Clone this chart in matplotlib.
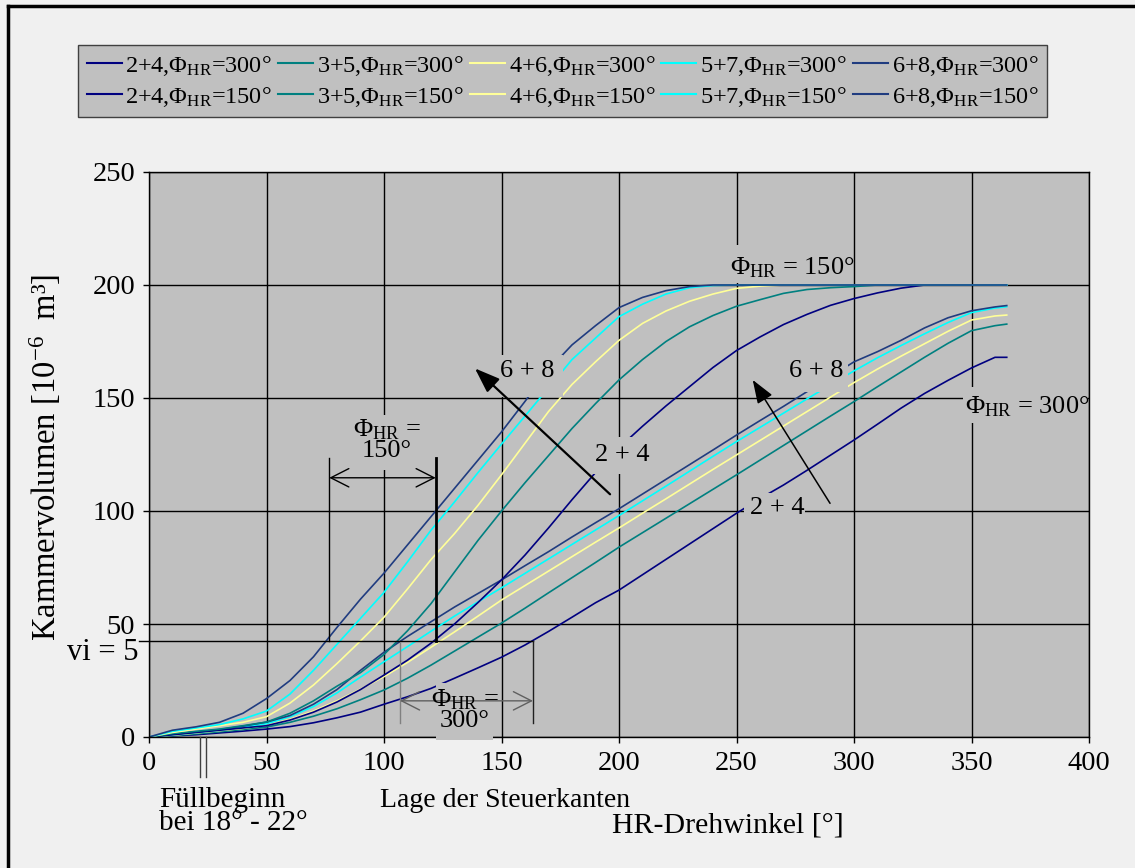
import matplotlib.pyplot as plt
from matplotlib.lines import Line2D

plt.rcParams['font.family'] = 'Liberation Serif'
plt.rcParams['mathtext.fontset'] = 'custom'
plt.rcParams['mathtext.rm'] = 'Liberation Serif'
plt.rcParams['mathtext.it'] = 'Liberation Serif:italic'
plt.rcParams['mathtext.bf'] = 'Liberation Serif:bold'

# HR-Drehwinkel [°]
angle = [0, 10, 20, 30, 40, 50, 60, 70, 80, 90,
         100, 110, 120, 130, 140, 150, 160, 170, 180, 190,
         200, 210, 220, 230, 240, 250, 260, 270, 280, 290,
         300, 310, 320, 330, 340, 350, 360, 365]

# Kammervolumen [10^-6 m^3], Steuerkanten bei PHI_HR = 150°
v24_150 = [0, 1, 2, 3, 4, 5, 7.5, 11, 15.5, 21,
           27.4, 34, 41.5, 50, 59.5, 69.5, 80.5, 92.5, 105, 117,
           128, 137.5, 146.5, 155, 163.5, 171, 177, 182.5, 187, 191,
           194, 196.5, 198.6, 200, 200, 200, 200, 200]
v35_150 = [0, 1.5, 2.5, 3.5, 5, 6.6, 10.5, 16, 22.5, 28.5,
           36.5, 47, 59, 73, 87, 100, 112.5, 124.5, 136.5, 147.5,
           158, 167, 175, 181.5, 186.5, 190.6, 193.5, 196.3, 198, 198.8,
           199.3, 200, 200, 200, 200, 200, 200, 200]
v46_150 = [0, 2, 3.5, 5, 6.5, 9, 15, 23, 32.5, 42.5,
           53, 65.5, 78.5, 90, 102.5, 116, 130, 144, 156, 166,
           175.5, 183, 188.5, 192.8, 196, 198.5, 199.5, 200, 200, 200,
           200, 200, 200, 200, 200, 200, 200, 200]
v57_150 = [0, 2.5, 4, 5.5, 8, 11.5, 19, 29.5, 41, 52.5,
           64, 77.5, 91.5, 104, 117, 129.6, 142, 154.5, 167, 176.5,
           186, 191.5, 196, 198.8, 199.8, 200, 200, 200, 200, 200,
           200, 200, 200, 200, 200, 200, 200, 200]
v68_150 = [0, 3, 4.5, 6.5, 10.5, 17, 25, 35.5, 48.5, 61,
           72.5, 85, 97.5, 110, 122.5, 135, 148.5, 162.5, 173.5, 182,
           190, 194.5, 197.5, 199.3, 200, 200, 200, 200, 200, 200,
           200, 200, 200, 200, 200, 200, 200, 200]

# Steuerkanten bei PHI_HR = 300°
v24_300 = [0, 0.5, 1, 1.8, 2.6, 3.5, 4.6, 6.3, 8.5, 11,
           14.5, 17.8, 21.5, 26, 30.6, 35.3, 40.7, 46.7, 53, 59.4,
           65, 71.8, 78.6, 85.4, 92.2, 99, 105.5, 111.5, 118, 124.7,
           131.4, 138.4, 145.5, 152, 157.8, 163.3, 168, 168]
v35_300 = [0, 0.6, 1.4, 2.3, 3.3, 4.4, 6.5, 9.2, 12.5, 16.5,
           20.8, 26, 31.8, 38, 44.2, 50.4, 57, 63.8, 70.5, 77.2,
           84, 90.4, 96.8, 103.2, 109.6, 116, 122.5, 129, 135.5, 142,
           148.4, 155, 161.5, 168, 174.2, 179.8, 182, 182.7]
v46_300 = [0, 0.8, 1.8, 2.8, 3.8, 5.2, 7.8, 11.5, 16, 21.2,
           26.7, 33, 39.7, 46.5, 53.5, 60.6, 67, 73.4, 79.8, 86.2,
           92.5, 99, 105.4, 111.9, 118.4, 124.8, 131.2, 137.6, 144, 150.4,
           156.8, 162.8, 168.5, 174, 179.5, 184.5, 186.3, 186.7]
v57_300 = [0, 1, 2, 3, 4.3, 5.9, 9, 13.5, 19.5, 26.5,
           33.3, 40, 46.8, 53.5, 59.8, 66, 72.4, 78.8, 85.2, 91.6,
           98, 104.5, 111, 117.6, 124.2, 130.7, 137, 143.3, 149.6, 155.8,
           162, 167.8, 173.2, 178.4, 183.4, 187.8, 189.8, 190.4]
v68_300 = [0, 1.2, 2.2, 3.3, 4.8, 6.6, 9.5, 14.5, 21, 29.5,
           37.5, 44.5, 51, 57.5, 63.5, 69.5, 75.8, 82, 88.5, 94.8,
           101, 107.5, 114, 120.5, 127, 133.6, 140, 146.3, 152.8, 159.5,
           166, 170.5, 175.5, 181, 185.5, 188.6, 190.3, 190.9]

pairs = ['2+4', '3+5', '4+6', '5+7', '6+8']
colors = ['#000080', '#008080', '#FFFF99', '#00FFFF', '#203C80']
series_300 = [v24_300, v35_300, v46_300, v57_300, v68_300]
series_150 = [v24_150, v35_150, v46_150, v57_150, v68_150]

vi5_level = 42.5          # Kammervolumen bei vi = 5
fill_start = [21.7, 24.3]  # Markierung Füllbeginn
edge_150 = [76.7, 122]     # Lage der Steuerkanten, PHI_HR = 150°
edge_300 = [106.8, 163.4]  # Lage der Steuerkanten, PHI_HR = 300°

BG = '#C0C0C0'
phi = r'$\Phi_{\mathrm{HR}}$'

fig = plt.figure(figsize=(11.35, 8.68), dpi=100)
fig.patch.set_facecolor('#F0F0F0')
ax = fig.add_axes([149 / 1135, 1 - 737 / 868, 940 / 1135, 565 / 868])
ax.set_facecolor(BG)

h300, h150 = [], []
for p, c, v in zip(pairs, colors, series_300):
    h300 += ax.plot(angle, v, color=c, lw=1.2, zorder=2, label=p + ',' + phi + '=300°')
for p, c, v in zip(pairs, colors, series_150):
    h150 += ax.plot(angle, v, color=c, lw=1.2, zorder=2, label=p + ',' + phi + '=150°')

ax.set_xlim(0, 400)
ax.set_ylim(0, 250)
ax.set_xticks(range(0, 401, 50))
ax.set_yticks(range(0, 251, 50))
ax.grid(True, color='black', lw=1)
ax.set_axisbelow(True)
ax.tick_params(direction='out', length=4, width=1, labelsize=20.5, pad=6)
for s in ax.spines.values():
    s.set_color('black')
    s.set_linewidth(1)

ax.set_ylabel('Kammervolumen [10$^{\\mathrm{-6}}$  m³]', fontsize=23.5)
ax.yaxis.set_label_coords(-0.092, 0.495)
ax.set_xlabel('HR-Drehwinkel [°]', fontsize=21.5)
ax.xaxis.set_label_coords(0.616, -0.133)


def mask(x0, y0, x1, y1):
    ax.add_patch(plt.Rectangle((x0, y0), x1 - x0, y1 - y0, fc=BG, ec='none',
                               zorder=3, clip_on=False))


def label(x, y, s, size=19, **kw):
    ax.text(x, y, s, ha='center', va='center', fontsize=size, zorder=6,
            clip_on=False, **kw)


# curve labels with their background boxes
mask(147.2, 150.6, 176.2, 169.0)
label(160.9, 161.9, '6 + 8')
mask(188.0, 116.4, 216.0, 132.7)
label(201.3, 124.8, '2 + 4')
mask(270.6, 152.7, 297.4, 169.0)
label(284.0, 162.0, '6 + 8')
mask(253.2, 93.8, 279.0, 108.0)
label(267.4, 101.3, '2 + 4')
mask(248.0, 200.9, 298.7, 217.7)
label(273.8, 207.5, phi + ' = 150°')
mask(346.4, 138.9, 399.6, 154.9)
label(373.6, 146.0, phi + ' = 300°')

# arrows: direction from 2+4 to 6+8
ax.annotate('', xy=(138.7, 163.1), xytext=(196.2, 107.4), zorder=7,
            arrowprops=dict(arrowstyle='-|>,head_length=0.9,head_width=0.33',
                            lw=1.6, color='black', mutation_scale=17,
                            shrinkA=0, shrinkB=0))
ax.annotate('', xy=(256.9, 158.0), xytext=(289.8, 103.4), zorder=7,
            arrowprops=dict(arrowstyle='-|>,head_length=0.9,head_width=0.33',
                            lw=1.1, color='black', mutation_scale=16,
                            shrinkA=0, shrinkB=0))

# vi = 5 level
ax.plot([-4.3, edge_300[1]], [vi5_level, vi5_level], color='black', lw=1,
        zorder=4, clip_on=False)
ax.text(-4.5, 37.6, 'vi = 5', ha='right', va='center', fontsize=22)

# control edge positions, PHI_HR = 150°
ax.plot([edge_150[0]] * 2, [vi5_level, 123.3], color='black', lw=1, zorder=4)
ax.plot([edge_150[1]] * 2, [vi5_level, 123.3], color='black', lw=2, zorder=4)
ax.annotate('', xy=(edge_150[0], 114.7), xytext=(edge_150[1], 114.7), zorder=4,
            arrowprops=dict(arrowstyle='<->,head_length=0.65,head_width=0.33',
                            lw=1, color='black', mutation_scale=20,
                            shrinkA=0, shrinkB=0))
mask(87.7, 118.1, 115.3, 142.5)
label(101.3, 131.5, phi + ' =\n150°', linespacing=0.85)

# control edge positions, PHI_HR = 300°
ax.plot([edge_300[0]] * 2, [6, 41.6], color='#808080', lw=1, zorder=4)
ax.plot([edge_300[1]] * 2, [6, vi5_level], color='#202020', lw=1, zorder=4)
ax.annotate('', xy=(edge_300[0], 16), xytext=(edge_300[1], 16), zorder=4,
            arrowprops=dict(arrowstyle='<->,head_length=0.65,head_width=0.33',
                            lw=1, color='#606060', mutation_scale=20,
                            shrinkA=0, shrinkB=0))
mask(122.1, -1.3, 146.4, 23.9)
label(134.5, 12.0, phi + ' =\n300°', linespacing=0.85)

# start of filling
for x in fill_start:
    ax.plot([x, x], [0, -17.7], color='#404040', lw=1, zorder=4, clip_on=False)
ax.text(4.3, -33.0, 'Füllbeginn\nbei 18° - 22°', ha='left', va='center',
        fontsize=21, linespacing=0.85)
ax.text(98.3, -27.9, 'Lage der Steuerkanten', ha='left', va='center', fontsize=20)

# legend: first row PHI_HR = 300°, second row PHI_HR = 150°
handles = [h for pair in zip(h300, h150) for h in pair]
leg = fig.legend(handles=handles, loc='upper left', ncol=5,
                 bbox_to_anchor=(78 / 1135, 1 - 45 / 868), borderaxespad=0,
                 fontsize=17.5, handlelength=1.45, handletextpad=0.15,
                 columnspacing=0.25, borderpad=0.35, labelspacing=0.3,
                 fancybox=False, framealpha=1, facecolor=BG, edgecolor='#404040')
leg.get_frame().set_linewidth(1)
for line in leg.get_lines():
    line.set_linewidth(1.5)

# outer frame
fig.add_artist(Line2D([8 / 1135, 8 / 1135], [0, 1 - 6 / 868], color='black', lw=2.5))
fig.add_artist(Line2D([8 / 1135, 1], [1 - 6 / 868, 1 - 6 / 868], color='black', lw=2.5))

fig.savefig('out.png', dpi=100, facecolor=fig.get_facecolor())
